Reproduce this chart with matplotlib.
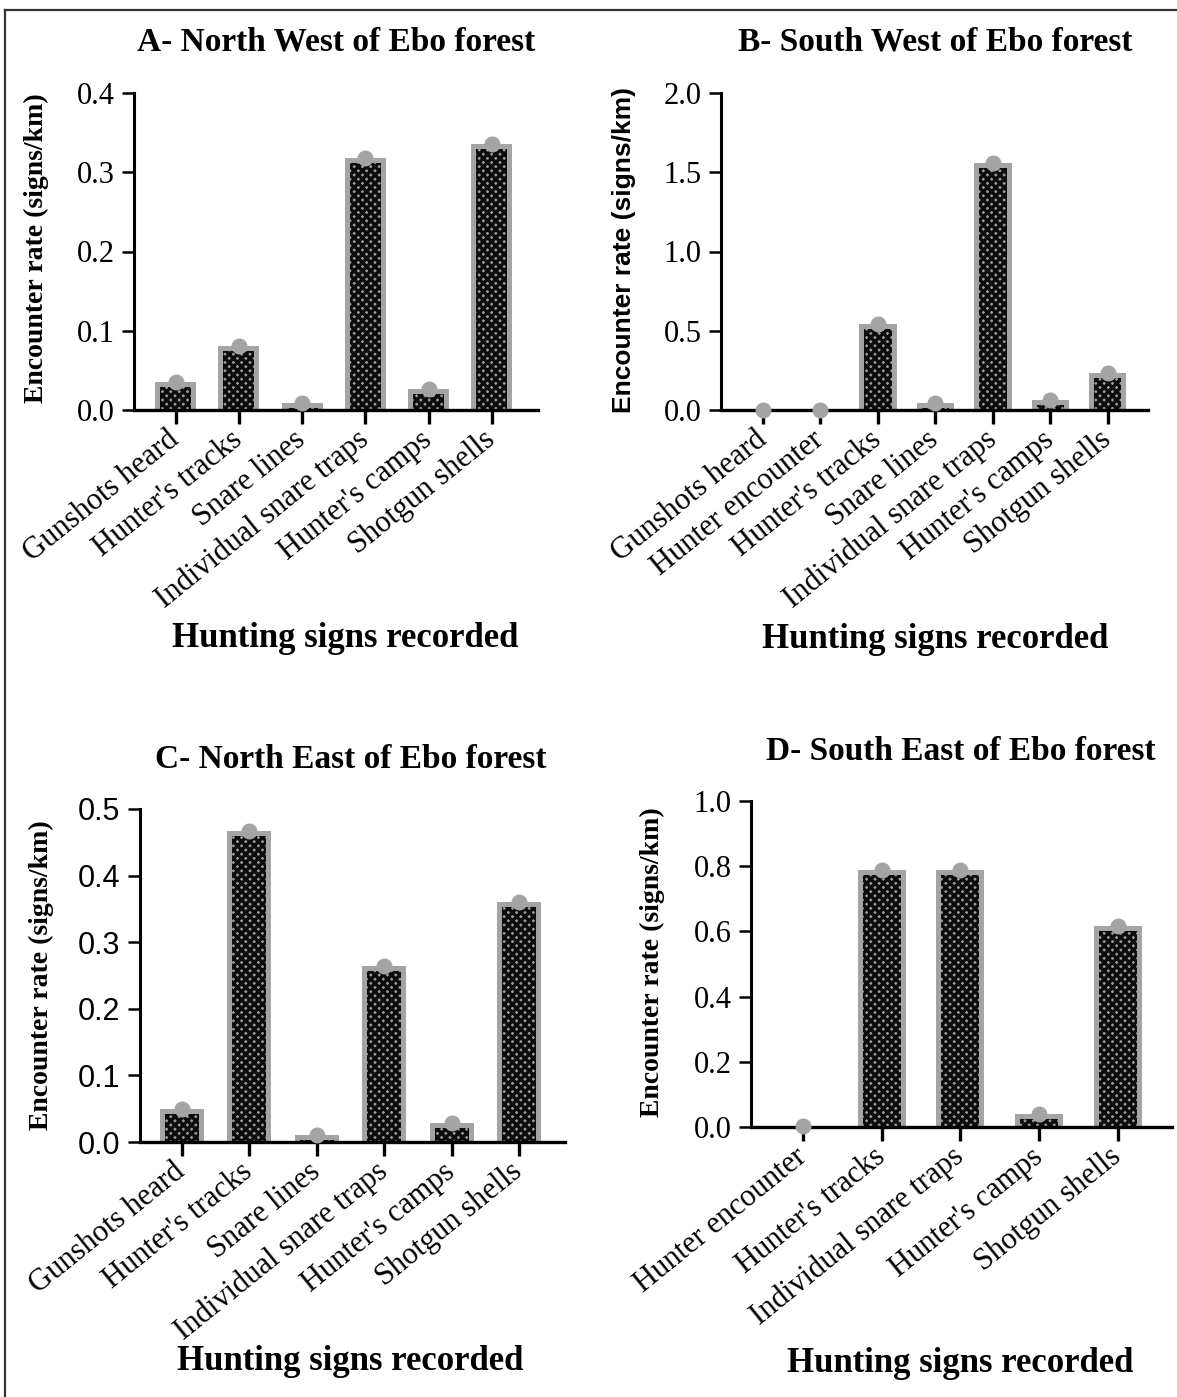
import numpy as np
import matplotlib
matplotlib.use("Agg")
import matplotlib.pyplot as plt
from matplotlib.lines import Line2D

W, H = 1177, 1397

# data
labels_a = ["Gunshots heard", "Hunter's tracks", "Snare lines",
            "Individual snare traps", "Hunter's camps", "Shotgun shells"]
values_a = [0.035, 0.081, 0.009, 0.318, 0.026, 0.336]

labels_b = ["Gunshots heard", "Hunter encounter", "Hunter's tracks", "Snare lines",
            "Individual snare traps", "Hunter's camps", "Shotgun shells"]
values_b = [0.0, 0.0, 0.54, 0.044, 1.56, 0.062, 0.233]

labels_c = ["Gunshots heard", "Hunter's tracks", "Snare lines",
            "Individual snare traps", "Hunter's camps", "Shotgun shells"]
values_c = [0.049, 0.467, 0.010, 0.264, 0.029, 0.360]

labels_d = ["Hunter encounter", "Hunter's tracks", "Individual snare traps",
            "Hunter's camps", "Shotgun shells"]
values_d = [0.004, 0.787, 0.787, 0.040, 0.616]

yticks_a = [0.0, 0.1, 0.2, 0.3, 0.4]
yticks_b = [0.0, 0.5, 1.0, 1.5, 2.0]
yticks_c = [0.0, 0.1, 0.2, 0.3, 0.4, 0.5]
yticks_d = [0.0, 0.2, 0.4, 0.6, 0.8, 1.0]

titles = ["A- North West of Ebo forest", "B- South West of Ebo forest",
          "C- North East of Ebo forest", "D- South East of Ebo forest"]
xlabel = "Hunting signs recorded"
ylabel = "Encounter rate (signs/km)"

SERIF = "Liberation Serif"
SANS = "Liberation Sans"
GRAY = "#a4a4a4"

plt.rcParams["hatch.linewidth"] = 2.4

fig = plt.figure(figsize=(W / 100, H / 100), dpi=100)


def fx(x):
    return x / W


def fy(y):
    return 1 - y / H


def panel(box, labels, values, yticks, title, title_xy, ylab_xy, ylab_font,
          ytick_font, xlab_xy, width=0.65, lpad=0.65, rpad=0.69, ylab_size=20):
    left, top, right, bottom = box
    ax = fig.add_axes([fx(left), fy(bottom), (right - left) / W, (bottom - top) / H])
    n = len(values)
    x = np.arange(n)
    ax.set_xlim(-lpad, n - 1 + rpad)
    ax.set_ylim(0, yticks[-1])

    # inset of the hatched core, in data units (about 5 px)
    dx = 5 * (n - 1 + rpad + lpad) / (right - left)
    dy = 5 * yticks[-1] / (bottom - top)

    ax.bar(x, values, width=width, color=GRAY, linewidth=0, zorder=2)
    inner = [max(v - dy, 0) for v in values]
    ax.bar(x, inner, width=width - 2 * dx, facecolor="#9c9c9c",
           edgecolor="#0d0d0d", hatch="xxxx", linewidth=0, zorder=3)
    ax.plot(x, values, "o", color=GRAY, markersize=10.5, zorder=6, clip_on=False)

    for s in ["top", "right"]:
        ax.spines[s].set_visible(False)
    ax.spines["left"].set_linewidth(2.2)
    ax.spines["bottom"].set_linewidth(2.4)
    ax.spines["bottom"].set_zorder(4)

    ax.set_yticks(yticks)
    ax.set_yticklabels([f"{t:.1f}" for t in yticks], family=ytick_font, fontsize=22)
    ax.tick_params(axis="y", length=9, width=1.8, pad=5)
    ax.set_xticks(x)
    ax.set_xticklabels(labels, rotation=39, ha="right", va="center",
                       rotation_mode="anchor", family=SERIF, fontsize=22)
    ax.tick_params(axis="x", length=10, width=2.4, pad=9)

    fig.text(fx(title_xy[0]), fy(title_xy[1]), title, family=SERIF,
             fontweight="bold", fontsize=24, ha="center", va="center")
    fig.text(fx(ylab_xy[0]), fy(ylab_xy[1]), ylabel, family=ylab_font,
             fontweight="bold", fontsize=ylab_size, rotation=90, ha="center",
             va="center")
    fig.text(fx(xlab_xy[0]), fy(xlab_xy[1]), xlabel, family=SERIF,
             fontweight="bold", fontsize=25, ha="center", va="center")
    return ax


panel((134, 93, 538, 410), labels_a, values_a, yticks_a, titles[0],
      (336, 42), (36, 248), SERIF, SERIF, (345, 638), lpad=0.66, rpad=0.73)
panel((721, 93, 1148, 410), labels_b, values_b, yticks_b, titles[1],
      (935, 42), (624, 250), SANS, SERIF, (935, 640), lpad=0.73, rpad=0.70,
      ylab_size=19)
panel((140, 809, 565, 1142), labels_c, values_c, yticks_c, titles[2],
      (351, 760), (41, 975), SERIF, SANS, (350, 1362), lpad=0.62, rpad=0.68)
panel((751, 801, 1172, 1127), labels_d, values_d, yticks_d, titles[3],
      (961, 751), (652, 962), SERIF, SERIF, (960, 1363), width=0.61,
      lpad=0.66, rpad=0.69)

# cropped frame: only the top and left edges show
fig.add_artist(Line2D([fx(5), 1], [fy(10), fy(10)], color="#333333", linewidth=1.6))
fig.add_artist(Line2D([fx(5), fx(5)], [0, fy(10)], color="#333333", linewidth=1.6))

fig.savefig("out.png", dpi=100)
